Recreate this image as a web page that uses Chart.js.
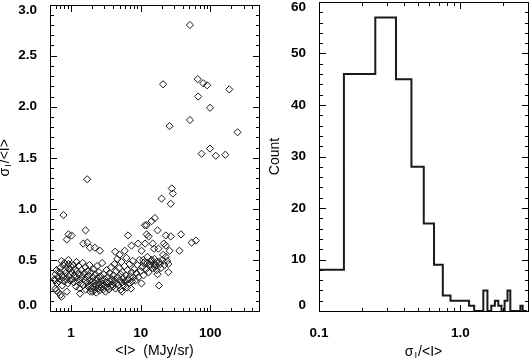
<!DOCTYPE html>
<html>
<head>
<meta charset="utf-8">
<script src="https://cdn.jsdelivr.net/npm/chart.js@4.4.1/dist/chart.umd.min.js"></script>
<style>
  body { margin: 0; background: #fff; }
  #wrap { position: relative; width: 529px; height: 360px; }
  canvas { position: absolute; top: 0; }
  #left { left: 0; }
  #right { left: 265px; }
  .ink { position: absolute; background: #000; pointer-events: none; }
</style>
</head>
<body>
<div id="wrap">
  <canvas id="left" width="265" height="360"></canvas>
  <canvas id="right" width="264" height="360"></canvas>
</div>
<script>
// scatter: [<I> (MJy/sr), sigma_I/<I>]
const scatterPoints = [
  [51,2.80],[21,2.22],[66,2.27],[79,2.23],[90,2.21],[187,2.17],[67,2.10],[99,1.99],[51,1.87],[26,1.81],
  [246,1.75],[99,1.59],[75,1.54],[120,1.52],[164,1.53],[1.71,1.29],
  [28,1.20],[29,1.15],[20,1.10],[27,1.05],
  [0.78,0.94],[16,0.91],[14.4,0.88],[12.2,0.84],[11.5,0.84],[1.62,0.79],[17.5,0.79],[0.92,0.75],[1.02,0.74],[0.87,0.70],
  [12.2,0.75],[13,0.73],[6.6,0.74],[38,0.75],[27,0.73],[23,0.74],[62,0.69],[54,0.67],[1.5,0.66],[1.72,0.67],
  [1.87,0.62],[2.2,0.62],[2.6,0.59],[11.6,0.66],[14.9,0.66],[21.6,0.66],[23,0.64],[7.4,0.64],[9.2,0.66],[15.6,0.61],
  [26,0.59],[36,0.59],[10.3,0.59],[5.9,0.59],[18,0.61],[21,0.55],[23,0.53],[4.3,0.58],[5.0,0.55],
  [0.73,0.49],[0.92,0.50],[1.2,0.48],[0.62,0.40],[0.59,0.30],[0.62,0.20],[0.73,0.14],[0.87,0.19],[1.35,0.17],[18.3,0.25],
  [25,0.38],[25,0.46],[17,0.40],[10.3,0.27],[5.4,0.19],[4.0,0.24],[1.9,0.19],
  [10.9,0.50],[11,0.47],[12.5,0.47],[13.5,0.44],[14.5,0.50],[15.5,0.46],[16,0.43],[17,0.48],[19,0.46],
  [0.58,0.31],[0.6,0.36],[0.62,0.40],[0.63,0.27],[0.65,0.33],[0.67,0.29],[0.68,0.38],[0.7,0.42],[0.72,0.31],[0.74,0.35],
  [0.75,0.25],[0.77,0.45],[0.78,0.33],[0.8,0.29],[0.82,0.40],[0.84,0.37],[0.86,0.31],[0.88,0.43],[0.9,0.27],[0.93,0.34],
  [0.95,0.41],[0.97,0.30],[0.98,0.36],[0.6,0.22],[0.66,0.18],[0.71,0.16],[0.8,0.47],[0.92,0.46],[0.99,0.44],
  [1.03,0.38],[1.05,0.31],[1.08,0.45],[1.1,0.28],[1.12,0.35],[1.15,0.41],[1.18,0.24],[1.2,0.33],[1.22,0.39],[1.25,0.29],
  [1.28,0.44],[1.3,0.36],[1.33,0.22],[1.36,0.31],[1.4,0.27],[1.42,0.40],[1.45,0.34],[1.48,0.47],[1.5,0.25],[1.55,0.37],
  [1.58,0.30],[1.6,0.43],[1.63,0.21],[1.66,0.33],[1.7,0.28],[1.73,0.39],[1.76,0.24],[1.8,0.35],[1.84,0.45],[1.87,0.30],
  [1.9,0.26],[1.94,0.38],[1.97,0.22],
  [2.02,0.29],[2.05,0.19],[2.08,0.33],[2.1,0.24],[2.13,0.41],[2.16,0.27],[2.2,0.21],[2.23,0.36],[2.26,0.30],[2.3,0.18],
  [2.33,0.25],[2.37,0.44],[2.4,0.32],[2.44,0.22],[2.48,0.28],[2.52,0.38],[2.56,0.20],[2.6,0.26],[2.65,0.34],[2.7,0.23],
  [2.75,0.30],[2.8,0.47],[2.85,0.27],[2.9,0.21],[2.95,0.36],[3.0,0.25],[3.06,0.31],[3.12,0.19],[3.18,0.28],[3.24,0.40],
  [3.3,0.23],[3.36,0.33],[3.42,0.27],[3.5,0.21],[3.57,0.37],[3.64,0.29],[3.7,0.24],[3.78,0.43],[3.85,0.31],[3.92,0.26],
  [4.05,0.35],[4.12,0.28],[4.2,0.46],[4.28,0.31],[4.36,0.22],[4.45,0.39],[4.53,0.27],[4.62,0.51],[4.7,0.33],[4.8,0.25],
  [4.9,0.42],[5.0,0.30],[5.1,0.36],[5.2,0.21],[5.3,0.48],[5.4,0.28],[5.5,0.38],[5.62,0.32],[5.75,0.25],[5.87,0.44],
  [6.0,0.29],[6.12,0.35],[6.25,0.52],[6.38,0.23],[6.5,0.40],[6.65,0.31],[6.8,0.27],[6.95,0.46],[7.1,0.34],[7.25,0.22],
  [7.4,0.38],[7.55,0.29],[7.7,0.49],[7.85,0.33],
  [8.1,0.41],[8.4,0.30],[8.7,0.37],[9.0,0.45],[9.3,0.33],[9.6,0.50],[10.0,0.39],[10.5,0.43],[11.0,0.35],[11.5,0.48],
  [12.0,0.41],[12.5,0.53],[13.0,0.38],[13.6,0.46],[14.2,0.49],[15.0,0.42],[15.8,0.51],[16.5,0.45],[17.5,0.36],[18.5,0.48],
  [19.5,0.42],[20.5,0.50],[22,0.45],[24,0.49]
];

// histogram of sigma_I/<I>, bins of width 0.1
const histBins = [0.1,0.2,0.3,0.4,0.5,0.6,0.7,0.8,0.9,1.0,1.1,1.2,1.3,1.4,1.5,1.6,1.7,1.8,1.9,2.0,2.1,2.2,2.3,2.4,2.5,2.6,2.7,2.8,2.9];
const histCounts = [8,46,57,45,28,17,9,3,2,2,2,1,0,0,4,0,1,2,1,0,2,4,0,0,0,0,1,0,0];
const binWidth = 0.1;

const leftXTicks = [1, 10, 100];
const leftXLabels = ['1', '10', '100'];
const rightXTicks = [0.1, 1];
const rightXLabels = ['0.1', '1.0'];

const FAMILY = '"Liberation Sans", Arial, Helvetica, sans-serif';
const tickFont = {family: FAMILY, size: 13.5, weight: 'bold', lineHeight: 1.2};
const yTickFont = {family: FAMILY, size: 13.5, weight: 'bold', lineHeight: 0.8};
const titleFont = {family: FAMILY, size: 14, weight: 'normal', lineHeight: 1.2};

const logMinors = (min, max, majors) => {
  let out = [];
  for (let d = Math.pow(10, Math.floor(Math.log10(min))); d < max; d *= 10) {
    for (let k = 1; k < 10; k++) {
      let v = +(k * d).toPrecision(3);
      if (v > min && v < max && !majors.includes(v)) out.push(v);
    }
  }
  return out;
};
const linMinors = (min, max, step, every) => {
  let out = [];
  let n = Math.round((max - min) / step);
  for (let i = 1; i < n; i++) {
    if (i % every != 0) out.push(+(min + i * step).toFixed(3));
  }
  return out;
};

const noPad = s => { s.paddingLeft = 0; s.paddingRight = 0; s.paddingTop = 0; s.paddingBottom = 0; };

// σ_I/<I> の軸タイトル (下付き文字)
const sigmaParts = [['σ', 14, 0], ['I', 9.5, 3.5], ['/<I>', 14, 0]];
const makeSigmaTitle = (axis, pos) => ({
  id: 'sigmaTitle',
  afterDraw(chart) {
    const ctx = chart.ctx, a = chart.chartArea;
    ctx.save();
    ctx.fillStyle = '#000';
    ctx.textBaseline = 'middle';
    ctx.textAlign = 'left';
    if (axis == 'y') {
      ctx.translate(pos, (a.top + a.bottom) / 2);
      ctx.rotate(-Math.PI / 2);
    } else {
      ctx.translate((a.left + a.right) / 2, pos);
    }
    let widths = sigmaParts.map(p => { ctx.font = p[1] + 'px ' + FAMILY; return ctx.measureText(p[0]).width; });
    let x = -(widths.reduce((s, w) => s + w, 0) + 2) / 2;
    sigmaParts.forEach((p, i) => {
      ctx.font = p[1] + 'px ' + FAMILY;
      ctx.fillText(p[0], x, p[2]);
      x += widths[i] + 1;
    });
    ctx.restore();
  }
});

// 枠と内向きの目盛り: 位置は Chart.js の chartArea と scale から取る
const addFrame = (chart, offsetX, xMinor, yMinor) => {
  const wrap = document.getElementById('wrap');
  const a = chart.chartArea;
  const sx = chart.scales.x, sy = chart.scales.y;
  const L = Math.round(a.left) + offsetX, R = Math.round(a.right) + offsetX;
  const T = Math.round(a.top), B = Math.round(a.bottom);
  const ink = (x, y, w, h) => {
    const d = document.createElement('div');
    d.className = 'ink';
    d.style.left = x + 'px';
    d.style.top = y + 'px';
    d.style.width = w + 'px';
    d.style.height = h + 'px';
    wrap.appendChild(d);
  };
  ink(L, T, R - L + 1, 1);
  ink(L, B, R - L + 1, 1);
  ink(L, T, 1, B - T + 1);
  ink(R, T, 1, B - T + 1);
  const mark = (scale, v, len) => {
    const p = Math.round(scale.getPixelForValue(v));
    if (scale.isHorizontal()) {
      ink(p + offsetX, B - len, 1, len);
      ink(p + offsetX, T + 1, 1, len);
    } else {
      ink(L + 1, p, len, 1);
      ink(R - len, p, len, 1);
    }
  };
  sx.ticks.forEach(t => mark(sx, t.value, 6));
  xMinor.forEach(v => mark(sx, v, 3));
  sy.ticks.forEach(t => mark(sy, t.value, 6));
  yMinor.forEach(v => mark(sy, v, 3));
};

// 左: 散布図
const leftChart = new Chart(document.getElementById('left'), {
  type: 'scatter',
  data: {
    datasets: [{
      data: scatterPoints.map(p => ({x: p[0], y: p[1]})),
      pointStyle: 'rectRot',
      pointRadius: 3.6,
      pointHoverRadius: 3.6,
      borderWidth: 1,
      borderColor: '#1a1a1a',
      backgroundColor: 'rgba(0,0,0,0)'
    }]
  },
  options: {
    responsive: false,
    animation: false,
    events: [],
    layout: {padding: {left: 0, right: 6, top: 2, bottom: 0}},
    plugins: {legend: {display: false}, tooltip: {enabled: false}},
    scales: {
      x: {
        type: 'logarithmic', position: 'bottom', min: 0.5, max: 500,
        grid: {display: false}, border: {display: false},
        afterBuildTicks: s => { s.ticks = leftXTicks.map(v => ({value: v})); },
        afterFit: s => { s.height = 49; noPad(s); },
        ticks: {autoSkip: false, maxRotation: 0, padding: 6, font: tickFont, color: '#000',
          callback: (v, i) => leftXLabels[i]},
        title: {display: true, text: '<I>  (MJy/sr)', font: titleFont, color: '#000', padding: {top: 0, bottom: 0}}
      },
      y: {
        type: 'linear', position: 'left', min: 0, max: 3,
        grid: {display: false}, border: {display: false},
        afterFit: s => { s.width = 50; noPad(s); },
        ticks: {stepSize: 0.5, padding: 5, font: yTickFont, color: '#000',
          callback: v => v == 3 ? ['', v.toFixed(1)] : (v == 0 ? [v.toFixed(1), ''] : v.toFixed(1))}
      }
    }
  },
  plugins: [makeSigmaTitle('y', 5)]
});
addFrame(leftChart, 0, logMinors(0.5, 500, leftXTicks), linMinors(0, 3, 0.1, 5));

// 右: ヒストグラム (階段状の線)
let histLine = [];
histBins.forEach((c, i) => {
  histLine.push({x: +(c - binWidth / 2).toFixed(3), y: histCounts[i]});
  histLine.push({x: +(c + binWidth / 2).toFixed(3), y: histCounts[i]});
});

const rightChart = new Chart(document.getElementById('right'), {
  type: 'line',
  data: {
    datasets: [{
      data: histLine,
      borderColor: '#1a1a1a',
      borderWidth: 2,
      borderJoinStyle: 'miter',
      borderCapStyle: 'butt',
      pointRadius: 0,
      fill: false,
      tension: 0
    }]
  },
  options: {
    responsive: false,
    animation: false,
    events: [],
    layout: {padding: {left: 0, right: 1, top: 2, bottom: 0}},
    plugins: {legend: {display: false}, tooltip: {enabled: false}},
    scales: {
      x: {
        type: 'logarithmic', position: 'bottom', min: 0.1, max: 3,
        grid: {display: false}, border: {display: false},
        afterBuildTicks: s => { s.ticks = rightXTicks.map(v => ({value: v})); },
        afterFit: s => { s.height = 49; noPad(s); },
        ticks: {autoSkip: false, maxRotation: 0, padding: 6, font: tickFont, color: '#000',
          callback: (v, i) => rightXLabels[i]}
      },
      y: {
        type: 'linear', position: 'left', min: 0, max: 60,
        grid: {display: false}, border: {display: false},
        afterFit: s => { s.width = 54; noPad(s); },
        ticks: {stepSize: 10, padding: 5, font: yTickFont, color: '#000',
          callback: v => v == 60 ? ['', String(v)] : (v == 0 ? [String(v), ''] : String(v))},
        title: {display: true, text: 'Count', font: titleFont, color: '#000', padding: {top: 2, bottom: 0}}
      }
    }
  },
  plugins: [makeSigmaTitle('x', 352)]
});
addFrame(rightChart, 265, logMinors(0.1, 3, rightXTicks), linMinors(0, 60, 2, 5));
</script>
</body>
</html>
